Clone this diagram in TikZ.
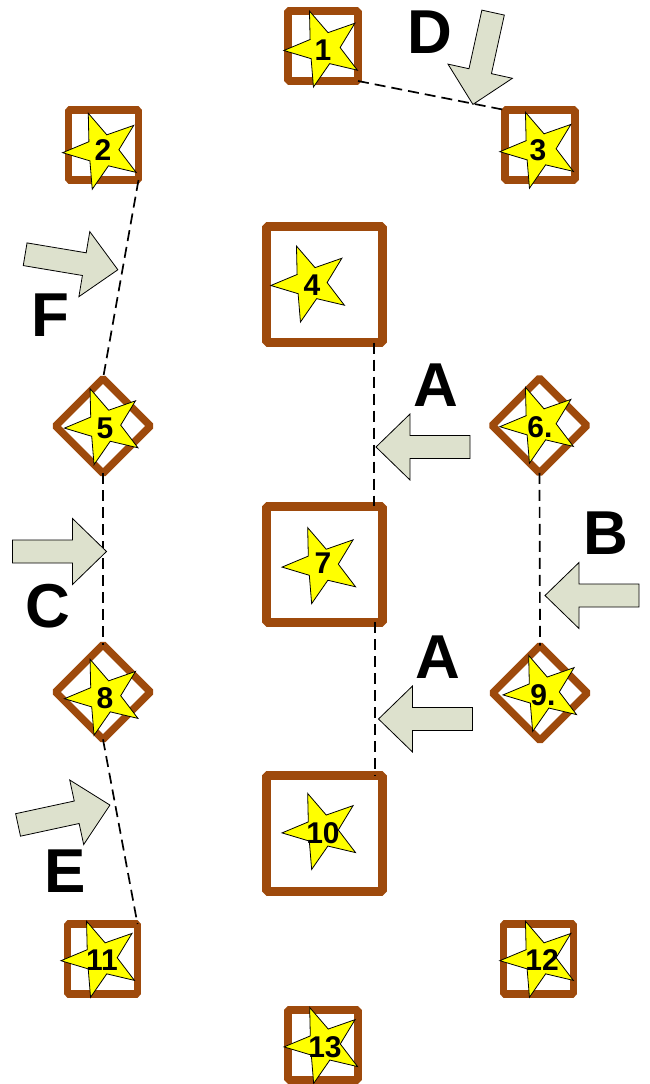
\documentclass[tikz,border=0pt]{standalone}
\usepackage{fontspec}
\setmainfont{Liberation Sans}
\usetikzlibrary{shapes.geometric,calc}
\definecolor{brownline}{RGB}{158,74,12}
\definecolor{arrowfill}{RGB}{221,225,205}
\definecolor{staryellow}{RGB}{255,255,0}
\begin{document}
\begin{tikzpicture}[x=1pt,y=-1pt,
 smallbox/.style={rectangle, draw=brownline, line width=7.5pt, line join=bevel, minimum size=70pt, inner sep=0pt, outer sep=0pt},
 bigbox/.style={smallbox, line width=9pt, minimum size=116pt},
 diamondbox/.style={smallbox, rotate=45, minimum size=67pt},
 starshape/.style={star, star points=5, star point ratio=2.45, shape border rotate=21, minimum size=80pt, inner sep=0pt, fill=staryellow, draw=black, line width=0.8pt},
 num/.style={font=\fontsize{30}{30}\selectfont\bfseries, inner sep=0pt},
 letter/.style={font=\fontsize{62}{62}\selectfont\bfseries, inner sep=0pt},
 link/.style={draw=black, line width=1.7pt, dash pattern=on 11pt off 6pt},
 arrowstyle/.style={fill=arrowfill, draw=black, line width=0.8pt, line join=miter},
 blockarrow/.pic={\path[arrowstyle] (-47,-11.5) -- (13,-11.5) -- (13,-33) -- (47,0) -- (13,33) -- (13,11.5) -- (-47,11.5) -- cycle;}
]
\useasboundingbox (0,0) rectangle (649,1084);

% boxes
\node[smallbox] (n1) at (323,46) {};
\node[smallbox] (n2) at (103.5,145) {};
\node[smallbox] (n3) at (540,145) {};
\node[bigbox] (n4) at (324,284.5) {};
\node[diamondbox] (n5) at (103,426) {};
\node[diamondbox] (n6) at (539.5,425.5) {};
\node[bigbox] (n7) at (324,564) {};
\node[diamondbox] (n8) at (103,692) {};
\node[diamondbox] (n9) at (540,693) {};
\node[bigbox] (n10) at (324,833.5) {};
\node[smallbox] (n11) at (102.5,959) {};
\node[smallbox] (n12) at (538.5,959) {};
\node[smallbox] (n13) at (323,1045) {};

% dashed connectors
\draw[link] (n1.south east) -- (n3.north west);
\draw[link] (n2.south east) -- (n5.north east);
\draw[link] (n5.south west) -- (n8.north east);
\draw[link] (n8.south west) -- (n11.north east);
\draw[link] ($(n4.south)!0.86!(n4.south east)$) -- ($(n7.north)!0.86!(n7.north east)$);
\draw[link] ($(n7.south)!0.88!(n7.south east)$) -- ($(n10.north)!0.88!(n10.north east)$);
\draw[link] (n6.south west) -- (n9.north east);

% stars
\node[starshape] (s1) at (323.8,48.4) {};
\node[starshape] (s2) at (102.6,150.6) {};
\node[starshape] (s3) at (539.8,149.6) {};
\node[starshape] (s4) at (310.8,283.4) {};
\node[starshape] (s5) at (104.4,426) {};
\node[starshape] (s6) at (539.8,424.6) {};
\node[starshape] (s7) at (322,565) {};
\node[starshape] (s8) at (104.4,696.6) {};
\node[starshape] (s9) at (543,692.8) {};
\node[starshape] (s10) at (322,830.8) {};
\node[starshape] (s11) at (100.9,958.6) {};
\node[starshape] (s12) at (539.8,958.6) {};
\node[starshape] (s13) at (324,1044.8) {};

% numbers
\node[num] (t1) at (323,50) {1};
\node[num] (t2) at (103,150) {2};
\node[num] (t3) at (538,150) {3};
\node[num] (t4) at (312,285) {4};
\node[num] (t5) at (105,428) {5};
\node[num] (t6) at (540,427) {6.};
\node[num] (t7) at (323,563) {7};
\node[num] (t8) at (105,698) {8};
\node[num] (t9) at (543,695) {9.};
\node[num] (t10) at (323,833) {10};
\node[num] (t11) at (102,960) {11};
\node[num] (t12) at (542,960) {12};
\node[num] (t13) at (325,1047) {13};

% block arrows
\pic[rotate=257.6] (arrD) at (483,58.5) {blockarrow};
\pic[rotate=-9.5] (arrF) at (71.5,262) {blockarrow};
\pic (arrC) at (59.5,551.5) {blockarrow};
\pic[rotate=12.2] (arrE) at (64,815) {blockarrow};
\pic[rotate=180] (arrA1) at (423,447) {blockarrow};
\pic[rotate=180] (arrA2) at (425.5,719) {blockarrow};
\pic[rotate=180] (arrB) at (592,595.5) {blockarrow};

% letters
\node[letter] (lD) at (430,32) {D};
\node[letter] (lF) at (50,315) {F};
\node[letter] (lA1) at (436,385) {A};
\node[letter] (lA2) at (438,657) {A};
\node[letter] (lB) at (606,533) {B};
\node[letter] (lC) at (48,606) {C};
\node[letter] (lE) at (65,871) {E};
\end{tikzpicture}
\end{document}
